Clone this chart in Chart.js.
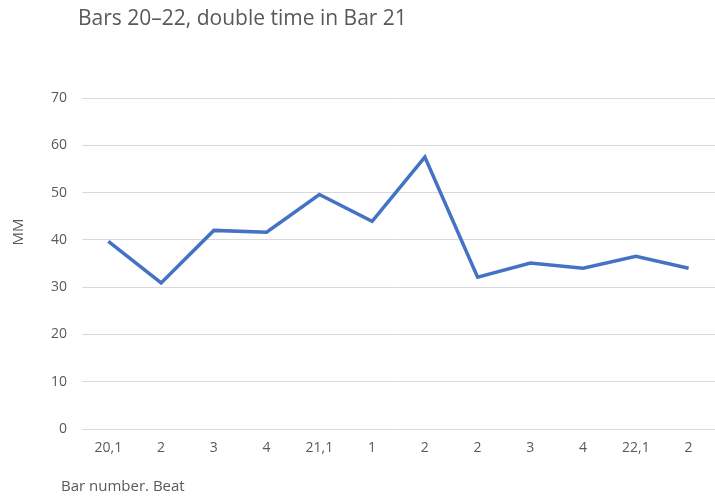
<!DOCTYPE html>
<html>
<head>
<meta charset="utf-8">
<script src="https://cdn.jsdelivr.net/npm/chart.js@4"></script>
<style>
html,body{margin:0;padding:0;background:#fff;}
#wrap{width:715px;height:496px;}
</style>
</head>
<body>
<div id="wrap"><canvas id="c" width="715" height="496"></canvas></div>
<script>
const chartTitle = "Bars 20\u201322, double time in Bar 21";
const xTitle = "Bar number. Beat";
const yTitle = "MM";
const categories = ["20,1","2","3","4","21,1","1","2","2","3","4","22,1","2"];
const mmValues = [39.7, 30.9, 42.0, 41.6, 49.6, 43.9, 57.5, 32.1, 35.1, 34.0, 36.5, 34.0];
const yTicks = [0,10,20,30,40,50,60,70];

const textColor = "#595959";
const fontFam = "'Open Sans', 'Liberation Sans', sans-serif";

const textPlugin = {
  id: 'texts',
  afterDraw(chart) {
    const ctx = chart.ctx;
    ctx.save();
    ctx.fillStyle = textColor;
    ctx.textBaseline = 'alphabetic';
    ctx.textAlign = 'left';
    ctx.font = "21px " + fontFam;
    ctx.fillText(chartTitle, 78, 25);
    ctx.font = "15px " + fontFam;
    ctx.fillText(xTitle, 61, 491);
    ctx.translate(23, 232);
    ctx.rotate(-Math.PI/2);
    ctx.textAlign = 'center';
    ctx.fillText(yTitle, 0, 0);
    ctx.restore();
  }
};

new Chart(document.getElementById('c'), {
  type: 'line',
  data: {
    labels: categories,
    datasets: [{
      data: mmValues,
      borderColor: '#4472C4',
      borderWidth: 3.5,
      pointRadius: 0,
      tension: 0,
      fill: false
    }]
  },
  options: {
    responsive: false,
    animation: false,
    layout: { padding: { top: 98, left: 0, right: 0, bottom: 0 } },
    plugins: { legend: { display: false }, title: { display: false }, tooltip: { enabled: false } },
    scales: {
      x: {
        offset: true,
        grid: { display: false, drawTicks: false },
        border: { display: false },
        ticks: { color: textColor, font: { family: fontFam, size: 14 }, padding: 11, maxRotation: 0, autoSkip: false },
        afterFit(s) { s.height = 67; }
      },
      y: {
        min: 0, max: 70,
        afterBuildTicks(s) { s.ticks = yTicks.map(v => ({ value: v })); },
        grid: { color: '#d9d9d9', lineWidth: 1, drawTicks: false },
        border: { display: false },
        ticks: { color: textColor, font: { family: fontFam, size: 14 }, padding: 15 },
        afterFit(s) { s.width = 82; }
      }
    }
  },
  plugins: [textPlugin]
});
</script>
</body>
</html>
